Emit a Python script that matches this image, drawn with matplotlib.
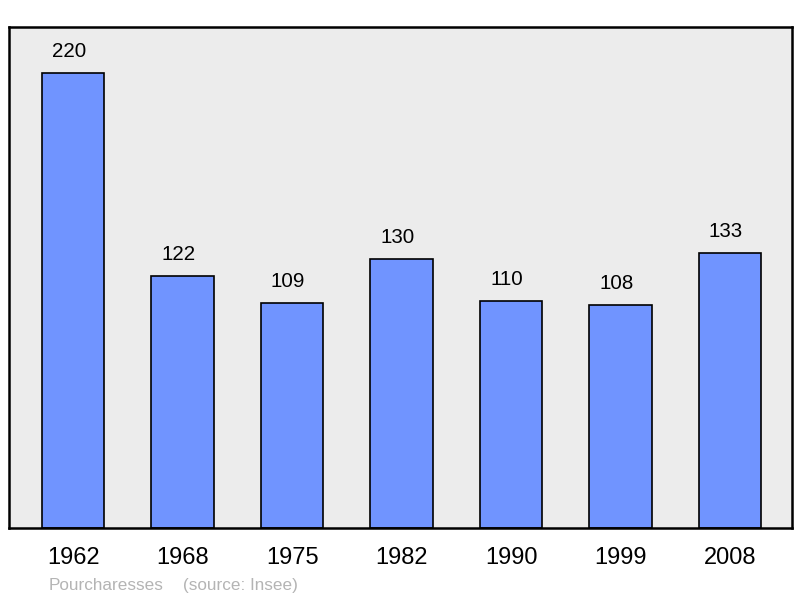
import matplotlib
matplotlib.use("Agg")
import matplotlib.pyplot as plt

years = ["1962", "1968", "1975", "1982", "1990", "1999", "2008"]
population = [220, 122, 109, 130, 110, 108, 133]
commune = "Pourcharesses"
source = "(source: Insee)"

plt.rcParams['font.family'] = ['Liberation Sans', 'DejaVu Sans']

fig = plt.figure(figsize=(8, 5.98), dpi=100)
ax = fig.add_axes([9 / 800, 70 / 598, 783 / 800, 501 / 598])
ax.set_facecolor('#ececec')

x = list(range(len(years)))
ax.bar(x, population, width=0.57, color='#7094ff', edgecolor='black', linewidth=1.2, zorder=2)

# valeurs au-dessus des barres
for xi, v in zip(x, population):
    ax.annotate(str(v), (xi, v), xytext=(-3, 8.5), textcoords='offset points',
                ha='center', va='bottom', fontsize=14.8)

ax.set_xlim(-0.585, 6.565)
ax.set_ylim(0, 242.3)
ax.set_yticks([])
ax.set_xticks(x)
ax.set_xticklabels(years, fontsize=17)
ax.tick_params(axis='x', length=0, pad=13.5)
for s in ax.spines.values():
    s.set_linewidth(1.8)

fig.text(49 / 800, 1 - 585.5 / 598, commune, color='#b4b4b4',
         fontsize=12.3, ha='left', va='center')
fig.text(183 / 800, 1 - 585.5 / 598, source, color='#b4b4b4',
         fontsize=12.3, ha='left', va='center')

fig.savefig('out.png', dpi=100)
